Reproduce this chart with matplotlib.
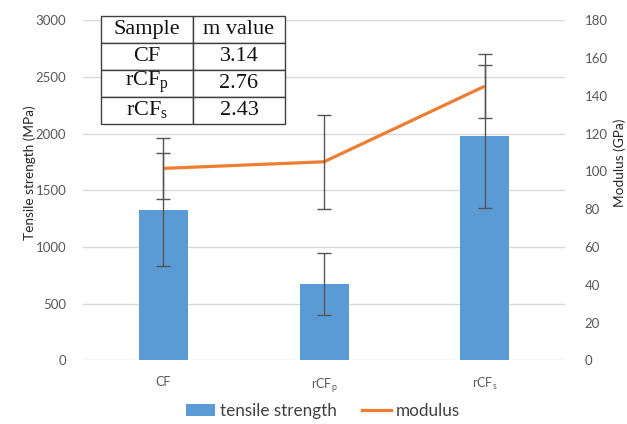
import numpy as np
import matplotlib
matplotlib.use('Agg')
import matplotlib.pyplot as plt
from matplotlib.patches import Patch
from matplotlib.lines import Line2D

plt.rcParams['font.family'] = ['Lato', 'DejaVu Sans']
plt.rcParams['mathtext.fontset'] = 'custom'
plt.rcParams['mathtext.rm'] = 'Liberation Serif'
plt.rcParams['mathtext.sf'] = 'Lato'

# ---- data ----
samples = ['CF', 'rCF$_\\mathsf{p}$', 'rCF$_\\mathsf{s}$']
tensile = [1330, 672, 1975]
tensile_err = [495, 275, 630]
modulus = [101.6, 105.1, 145.1]
modulus_err = [16, 25, 17]
table_samples = ['CF', 'rCF$_\\mathrm{p}$', 'rCF$_\\mathrm{s}$']
m_values = ['3.14', '2.76', '2.43']

BLUE = '#5B9BD5'
ORANGE = '#ED7D31'
GRID = '#D9D9D9'
TXT = '#595959'

fig = plt.figure(figsize=(6.27, 4.24), dpi=100, facecolor='white')
ax = fig.add_axes([0.1324, 0.1502, 0.7687, 0.8019])
x = np.arange(len(samples))

ax.bar(x, tensile, width=0.305, color=BLUE, zorder=2)
ax.errorbar(x, tensile, yerr=tensile_err, fmt='none', ecolor='#555555',
            elinewidth=1.0, capsize=5, capthick=1.0, zorder=3)
ax.set_xlim(-0.5, 2.5)
ax.set_ylim(0, 3000)
ax.set_yticks(np.arange(0, 3001, 500))
ax.yaxis.grid(True, color=GRID, lw=1.0, zorder=0)
ax.set_axisbelow(True)
for sp in ax.spines.values():
    sp.set_visible(False)
ax.tick_params(axis='both', length=0, colors=TXT, labelsize=9.5)
ax.tick_params(axis='y', pad=12)
ax.tick_params(axis='x', pad=11.5, labelsize=9)
ax.set_xticks(x)
ax.set_xticklabels(samples)
ax.set_ylabel('Tensile strength (MPa)', fontsize=9.8, color='#262626')
ax.yaxis.set_label_coords(-0.097, 0.551)

ax2 = ax.twinx()
ax2.plot(x, modulus, color=ORANGE, lw=2.3, zorder=4, solid_capstyle='butt')
ax2.errorbar(x, modulus, yerr=modulus_err, fmt='none', ecolor='#555555',
             elinewidth=1.0, capsize=5, capthick=1.0, zorder=5)
ax2.set_ylim(0, 180)
ax2.set_yticks(np.arange(0, 181, 20))
for sp in ax2.spines.values():
    sp.set_visible(False)
ax2.tick_params(axis='y', length=0, colors=TXT, labelsize=9.5, pad=14)
ax2.set_ylabel('Modulus (GPa)', fontsize=9.8, color='#262626')
ax2.yaxis.set_label_coords(1.1, 0.58)

# m value table
rows = [[s, m] for s, m in zip(table_samples, m_values)]
tbl = ax2.table(cellText=rows, colLabels=['Sample', 'm value'],
                cellLoc='center', bbox=[0.0373, 0.695, 0.3817, 0.319])
tbl.auto_set_font_size(False)
tbl.set_zorder(10)
for (r, c), cell in tbl.get_celld().items():
    cell.set_facecolor('white')
    cell.set_edgecolor('#404040')
    cell.set_linewidth(1.0)
    cell.get_text().set_fontfamily('Liberation Serif')
    cell.get_text().set_fontsize(16)
    cell.get_text().set_color('#111111')

handles = [Patch(facecolor=BLUE, edgecolor='none', label='tensile strength'),
           Line2D([0], [0], color=ORANGE, lw=2.3, label='modulus')]
fig.legend(handles=handles, loc='center', bbox_to_anchor=(323/627, 1 - 411/424),
           ncol=2, frameon=False, fontsize=12.3, handlelength=1.7,
           handletextpad=0.25, columnspacing=1.5, labelcolor='#404040')

plt.savefig('out.png', dpi=100, facecolor='white')
